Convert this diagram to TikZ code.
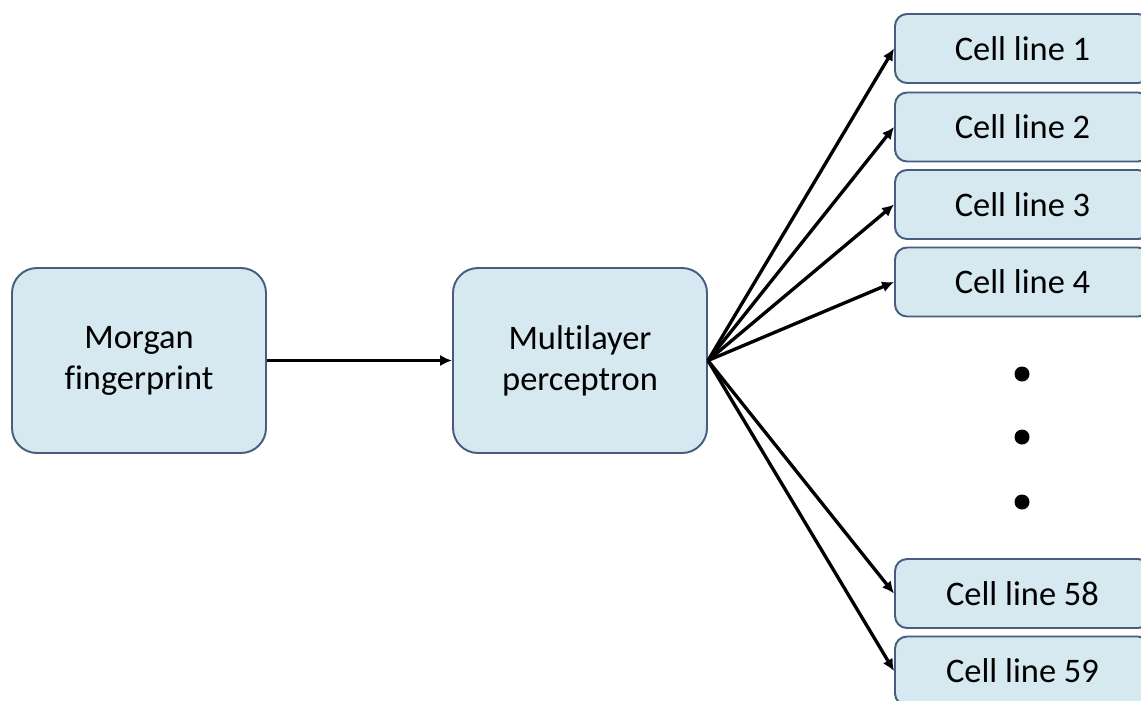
\documentclass[tikz,border=0pt]{standalone}
\usepackage{fontspec}
\setmainfont[Ligatures=NoCommon]{Carlito}
\usetikzlibrary{positioning,arrows.meta}

\definecolor{boxfill}{RGB}{214,232,240}
\definecolor{boxdraw}{RGB}{72,92,128}

\begin{document}
\begin{tikzpicture}[
		>={Latex[length=3.4pt,width=3.2pt]},
		main_box/.style={
			rectangle, rounded corners=0.25cm, draw=boxdraw, fill=boxfill, line width=0.55pt,
			minimum width=2.54cm, minimum height=1.85cm, align=center,
			font=\fontsize{9.8pt}{11.7pt}\selectfont
		},
		cell_box/.style={
			rectangle, rounded corners=0.12cm, draw=boxdraw, fill=boxfill, line width=0.55pt,
			minimum width=2.55cm, minimum height=0.69cm, inner sep=0pt,
			font=\fontsize{9.8pt}{11.7pt}\selectfont
		},
		dot_node/.style={circle, fill=black, inner sep=0pt, minimum size=0.15cm},
		link/.style={->, line width=0.95pt}
		]
		
		\clip (0,0) rectangle (11.41,7);
		\useasboundingbox (0,0) rectangle (11.41,7);
		
		% --- INPUT AND MODEL ---
		\node[main_box] (fp) at (1.39,3.395) {Morgan\\fingerprint};
		\node[main_box] (mlp) at (5.80,3.395) {Multilayer\\perceptron};
		
		% --- OUTPUT HEADS ---
		\node[cell_box] (c1) at (10.225,6.515) {Cell line 1};
		\node[cell_box] (c2) at (10.225,5.73) {Cell line 2};
		\node[cell_box] (c3) at (10.225,4.955) {Cell line 3};
		\node[cell_box] (c4) at (10.225,4.18) {Cell line 4};
		\node[cell_box] (c58) at (10.225,1.065) {Cell line 58};
		\node[cell_box] (c59) at (10.225,0.29) {Cell line 59};
		
		% dots for the skipped cell lines
		\node[dot_node] (d1) at (10.22,3.26) {};
		\node[dot_node] (d2) at (10.22,2.63) {};
		\node[dot_node] (d3) at (10.22,1.98) {};
		
		% --- CONNECTIONS ---
		\draw[link] (fp.east) -- (mlp.west);
		
		\draw[link] (mlp.east) -- (c1.west);
		\draw[link] (mlp.east) -- (c2.west);
		\draw[link] (mlp.east) -- (c3.west);
		\draw[link] (mlp.east) -- (c4.west);
		\draw[link] (mlp.east) -- (c58.west);
		\draw[link] (mlp.east) -- (c59.west);
		
	\end{tikzpicture}
\end{document}
